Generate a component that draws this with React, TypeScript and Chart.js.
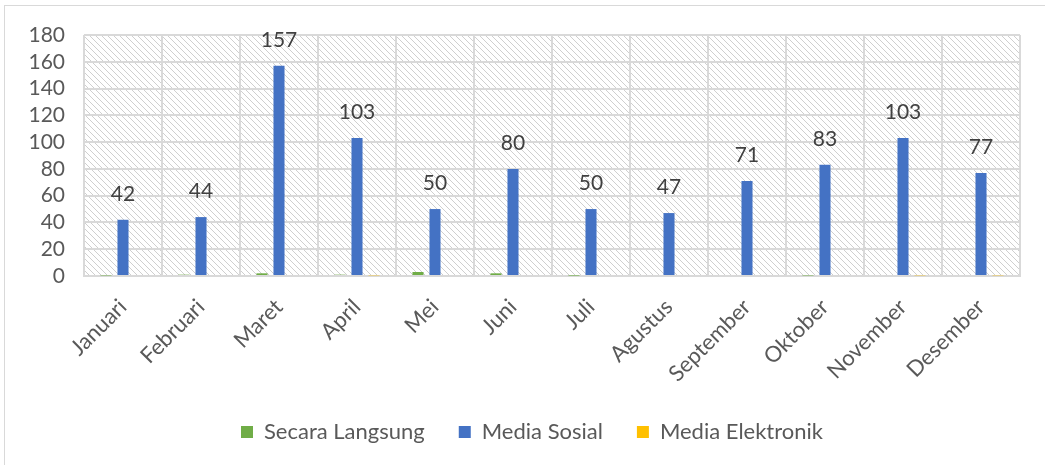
import React, { useEffect, useRef } from "react";
import { Chart, registerables } from "chart.js";

Chart.register(...registerables);

const months = [
  "Januari", "Februari", "Maret", "April", "Mei", "Juni",
  "Juli", "Agustus", "September", "Oktober", "November", "Desember",
];
const secaraLangsung = [0.4, 1, 2, 1, 3, 2, 0.3, 0, 0, 0.4, 0, 0];
const mediaSosial = [42, 44, 157, 103, 50, 80, 50, 47, 71, 83, 103, 77];
const mediaElektronik = [0, 0, 0, 0.5, 0, 0, 0, 0, 0, 0, 0.5, 0.5];
const yTicks = [0, 20, 40, 60, 80, 100, 120, 140, 160, 180];

const FONT = "Lato, 'Open Sans', sans-serif";
const TEXT = "#595959";

const hatchPlugin = {
  id: "hatch",
  afterLayout(chart: any) {
    if (chart.legend) {
      chart.legend.left += 22;
      chart.legend.right += 22;
    }
  },
  beforeDraw(chart: any) {
    const { ctx, chartArea } = chart;
    const s = 6;
    const tile = document.createElement("canvas");
    tile.width = s;
    tile.height = s;
    const t = tile.getContext("2d")!;
    t.strokeStyle = "#cfcfcf";
    t.lineWidth = 1;
    t.beginPath();
    t.moveTo(-1, -1);
    t.lineTo(s + 1, s + 1);
    t.moveTo(-1, s - 1);
    t.lineTo(1, s + 1);
    t.moveTo(s - 1, -1);
    t.lineTo(s + 1, 1);
    t.stroke();
    const pat = ctx.createPattern(tile, "repeat");
    ctx.save();
    ctx.fillStyle = "#ffffff";
    ctx.fillRect(0, 0, chart.width, chart.height);
    ctx.strokeStyle = "#d9d9d9";
    ctx.lineWidth = 1;
    ctx.strokeRect(4.5, 5.5, chart.width + 20, chart.height + 20);
    ctx.fillStyle = pat;
    ctx.fillRect(chartArea.left, chartArea.top, chartArea.right - chartArea.left, chartArea.bottom - chartArea.top);
    ctx.restore();
  },
};

const labelPlugin = {
  id: "valueLabels",
  afterDatasetsDraw(chart: any) {
    const { ctx } = chart;
    const meta = chart.getDatasetMeta(1);
    ctx.save();
    ctx.font = `21px ${FONT}`;
    ctx.fillStyle = "#404040";
    ctx.textAlign = "center";
    ctx.textBaseline = "bottom";
    meta.data.forEach((bar: any, i: number) => {
      ctx.fillText(String(mediaSosial[i]), bar.x, bar.y - 15);
    });
    ctx.restore();
  },
};

export default function App() {
  const ref = useRef<HTMLCanvasElement | null>(null);
  useEffect(() => {
    if (!ref.current) return;
    const chart = new Chart(ref.current, {
      type: "bar",
      data: {
        labels: months,
        datasets: [
          { label: "Secara Langsung", data: secaraLangsung, backgroundColor: "#70AD47" },
          { label: "Media Sosial", data: mediaSosial, backgroundColor: "#4472C4" },
          { label: "Media Elektronik", data: mediaElektronik, backgroundColor: "#FFC000" },
        ],
      },
      options: {
        animation: false,
        responsive: false,
        maintainAspectRatio: false,
        datasets: { bar: { categoryPercentage: 0.654, barPercentage: 0.65 } },
        layout: { padding: { top: 35, right: 25, left: 0, bottom: 12 } },
        plugins: {
          tooltip: { enabled: false },
          legend: {
            position: "bottom",
            labels: {
              boxWidth: 12,
              boxHeight: 12,
              padding: 34,
              color: TEXT,
              font: { family: FONT, size: 22 },
            },
          },
        },
        scales: {
          x: {
            afterFit(scale: any) { scale.height = 111; },
            grid: { color: "#d9d9d9", lineWidth: 2, drawTicks: false, offset: true },
            border: { color: "#d9d9d9", width: 2 },
            ticks: {
              color: TEXT,
              font: { family: FONT, size: 22 },
              minRotation: 45,
              maxRotation: 45,
              padding: 18,
              autoSkip: false,
            },
          },
          y: {
            min: 0,
            max: 180,
            afterFit(scale: any) { scale.width = 84; },
            afterBuildTicks(scale: any) { scale.ticks = yTicks.map((v) => ({ value: v })); },
            grid: { color: "#d9d9d9", lineWidth: 2, drawTicks: false },
            border: { display: false },
            ticks: {
              color: TEXT,
              font: { family: FONT, size: 21 },
              padding: 19,
              autoSkip: false,
              stepSize: 20,
            },
          },
        },
      },
      plugins: [hatchPlugin, labelPlugin],
    });
    return () => chart.destroy();
  }, []);
  return (
    <div style={{ position: "absolute", left: 0, top: 0, width: 1045, height: 465 }}>
      <canvas ref={ref} width={1045} height={465} style={{ display: "block" }} />
    </div>
  );
}
